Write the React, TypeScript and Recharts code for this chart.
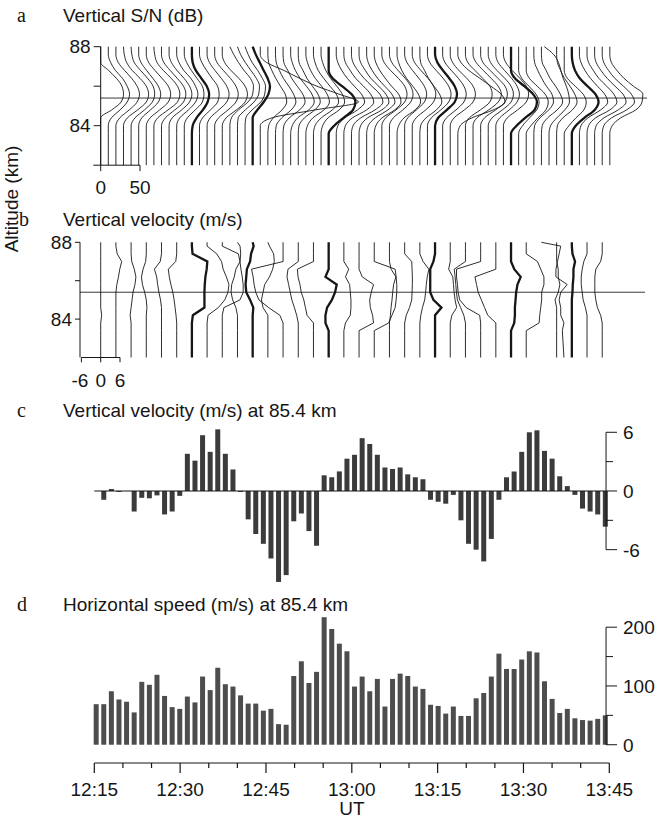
import React from 'react';
import { ScatterChart, Scatter, BarChart, Bar, XAxis, YAxis, ReferenceLine } from 'recharts';

const W = 666;
const H = 819;
const SANS = '"Liberation Sans", Arial, Helvetica, sans-serif';
const SERIF = '"Liberation Serif", "Times New Roman", serif';
const INK = '#161616';

// sample times in minutes after 12:15 UT (about 80 s cadence)
const T0 = 0.38;
const DT = 1.328;
const N = 68;
const TIMES = Array.from({ length: N }, (_, i) => +(T0 + i * DT).toFixed(3));

// profiles drawn with a heavy line (time index)
const HEAVY = [12, 20, 30, 44, 54, 62];

// (c) vertical velocity at 85.4 km, m/s
const VERT_VEL = [
  0, -0.9, 0.2, -0.1, 0, -2.1, -0.7, -0.75, -0.45, -2.4,
  -2.1, -0.5, 3.8, 3.1, 5.7, 4.0, 6.3, 3.8, 2.2, -0.1,
  -2.9, -4.4, -5.4, -6.9, -9.3, -8.6, -3.1, -2.3, -4.1, -5.6,
  1.6, 1.4, 2.0, 3.3, 3.7, 5.4, 4.8, 3.7, 2.4, 2.25,
  2.4, 1.7, 1.4, 1.2, -0.9, -1.1, -1.3, -0.4, -3.0, -5.4,
  -6.0, -7.2, -4.9, -0.9, 1.4, 2.0, 4.0, 6.0, 6.2, 4.1,
  3.3, 1.5, 0.5, -0.4, -1.8, -2.1, -2.4, -3.65,
];

// (d) horizontal speed at 85.4 km, m/s
const HORIZ_SPEED = [
  69, 69, 91, 77, 73, 55, 107, 102, 119, 83,
  64, 61, 82, 72, 116, 93, 131, 103, 99, 84,
  70, 70, 58, 61, 35, 34, 117, 142, 105, 124,
  217, 197, 172, 159, 99, 116, 91, 112, 65, 112,
  121, 117, 99, 95, 68, 66, 53, 65, 49, 49,
  79, 88, 116, 155, 129, 129, 145, 159, 157, 108,
  78, 54, 61, 45, 42, 41, 44, 50,
];

// (a) S/N above noise (dB) at these altitudes, one row per sample
const ALT_A = [82, 83.6, 84, 84.4, 84.8, 85.2, 85.6, 86, 86.4, 86.8, 87.2, 87.6, 88];
const SN_PROFILES = [
  [0, 0, 0, 0, 14, 26, 29, 27, 20, 10, 0, 0, 0],
  [0, 0, 0, 4, 15, 24, 27, 24, 18, 9, 3, 0, 0],
  [0, 0, 0, 5, 17, 27, 30, 27, 20, 11, 3, 0, 0],
  [0, 0, 0, 5, 18, 29, 32, 29, 21, 11, 4, 1, 0],
  [0, 0, 0, 5, 17, 27, 30, 28, 21, 12, 4, 1, 0],
  [0, 0, 0, 4, 15, 25, 28, 25, 18, 10, 3, 0, 0],
  [0, 0, 0, 5, 17, 28, 31, 28, 20, 11, 3, 0, 0],
  [0, 0, 0, 5, 18, 30, 33, 30, 22, 12, 4, 1, 0],
  [0, 0, 0, 5, 17, 28, 31, 28, 20, 11, 3, 0, 0],
  [0, 0, 0, 4, 16, 26, 29, 26, 19, 10, 3, 0, 0],
  [0, 0, 0, 4, 15, 24, 27, 24, 18, 9, 3, 0, 0],
  [0, 0, 0, 4, 14, 23, 25, 23, 16, 9, 3, 0, 0],
  [0, 0, 1, 6, 14, 20, 22, 19, 12, 5, 1, 0, 0],
  [0, 0, 0, 4, 14, 23, 25, 23, 16, 9, 3, 0, 0],
  [0, 0, 0, 4, 15, 25, 28, 25, 18, 10, 3, 0, 0],
  [0, 0, 0, 5, 17, 27, 30, 27, 20, 11, 3, 0, 0],
  [0, 0, 0, 5, 18, 29, 32, 29, 21, 11, 3, 0, 0],
  [0, 0, 0, 2, 11, 23, 29, 30, 26, 18, 11, 5, 0],
  [0, 0, 0, 1, 10, 21, 27, 28, 24, 17, 10, 4, 0],
  [0, 0, 0, 1, 9, 20, 25, 26, 22, 16, 9, 4, 0],
  [0, 0, 0, 0, 6, 14, 20, 22, 19, 14, 9, 4, 0],
  [0, 0, 0, 15, 70, 125, 100, 72, 50, 30, 8, 0, 0],
  [0, 0, 1, 7, 18, 24, 22, 16, 10, 5, 1, 0, 0],
  [0, 0, 1, 8, 20, 26, 23, 17, 10, 5, 1, 0, 0],
  [0, 0, 1, 8, 21, 28, 25, 18, 11, 6, 1, 0, 0],
  [0, 0, 2, 9, 23, 30, 27, 20, 12, 6, 2, 0, 0],
  [0, 0, 1, 8, 21, 28, 25, 18, 11, 6, 1, 0, 0],
  [0, 0, 2, 9, 23, 30, 27, 20, 12, 6, 2, 0, 0],
  [0, 0, 2, 10, 24, 32, 29, 21, 13, 6, 2, 0, 0],
  [0, 0, 2, 9, 23, 30, 27, 20, 12, 6, 2, 0, 0],
  [0, 0, 7, 19, 31, 34, 29, 17, 5, 0, 0, 0, 0],
  [0, 0, 2, 11, 27, 36, 32, 23, 14, 7, 2, 0, 0],
  [0, 0, 2, 11, 29, 38, 34, 25, 15, 8, 2, 0, 0],
  [0, 0, 2, 12, 30, 40, 36, 26, 16, 8, 2, 0, 0],
  [0, 0, 2, 11, 29, 38, 34, 25, 15, 8, 2, 0, 0],
  [0, 0, 2, 11, 27, 36, 32, 23, 14, 7, 2, 0, 0],
  [0, 0, 2, 10, 26, 34, 31, 22, 14, 7, 2, 0, 0],
  [0, 0, 0, 5, 18, 29, 32, 29, 21, 11, 3, 0, 0],
  [0, 0, 0, 5, 17, 27, 30, 27, 20, 11, 3, 0, 0],
  [0, 0, 2, 9, 23, 30, 27, 20, 12, 6, 2, 0, 0],
  [0, 0, 0, 4, 15, 25, 28, 25, 18, 10, 3, 0, 0],
  [0, 0, 0, 5, 17, 27, 30, 27, 20, 11, 3, 0, 0],
  [0, 0, 1, 8, 21, 28, 25, 18, 11, 6, 1, 0, 0],
  [0, 0, 0, 5, 17, 27, 30, 27, 20, 11, 3, 0, 0],
  [0, 0, 0, 4, 15, 25, 28, 25, 18, 10, 3, 0, 0],
  [0, 0, 0, 5, 17, 27, 30, 27, 20, 11, 3, 0, 0],
  [0, 0, 0, 5, 18, 29, 32, 29, 21, 11, 3, 0, 0],
  [0, 0, 3, 18, 45, 60, 55, 42, 28, 14, 4, 0, 0],
  [0, 0, 0, 5, 19, 31, 34, 31, 22, 12, 3, 0, 0],
  [0, 0, 0, 5, 20, 32, 36, 32, 23, 13, 4, 0, 0],
  [0, 0, 0, 5, 19, 31, 34, 31, 22, 12, 3, 0, 0],
  [0, 0, 0, 5, 18, 29, 32, 29, 21, 11, 3, 0, 0],
  [0, 0, 0, 5, 17, 27, 30, 27, 20, 11, 3, 0, 0],
  [0, 0, 0, 5, 18, 29, 32, 29, 21, 11, 3, 0, 0],
  [0, 0, 7, 18, 30, 33, 28, 17, 5, 0, 0, 0, 0],
  [0, 0, 5, 14, 23, 26, 22, 13, 4, 0, 0, 0, 0],
  [0, 0, 6, 15, 25, 28, 24, 14, 4, 0, 0, 0, 0],
  [0, 0, 1, 8, 19, 25, 23, 16, 10, 5, 1, 0, 0],
  [0, 0, 1, 8, 20, 27, 24, 18, 11, 6, 1, 0, 0],
  [0, 0, 2, 10, 20, 26, 25, 22, 18, 15, 12, 6, -6],
  [0, 0, 1, 8, 20, 26, 23, 17, 10, 5, 1, 0, 0],
  [0, 0, 6, 15, 25, 28, 24, 14, 4, 0, 0, 0, 0],
  [0, 0, 5, 16, 29, 34, 30, 20, 10, 4, 1, 0, 0],
  [0, 0, 2, 11, 27, 36, 32, 23, 14, 7, 2, 0, 0],
  [0, 0, 2, 11, 29, 38, 34, 25, 15, 8, 2, 0, 0],
  [0, 0, 2, 12, 30, 40, 36, 26, 16, 8, 2, 0, 0],
  [0, 0, 2, 12, 31, 41, 37, 27, 16, 8, 2, 0, 0],
  [0, 0, 3, 14, 33, 41, 42, 30, 18, 9, 2, 0, 0],
];

// (b) vertical velocity (m/s) at these altitudes, every second sample
const ALT_B = [82, 83.4, 83.8, 84.2, 84.6, 85, 85.4, 85.8, 86.2, 86.6, 87, 87.4, 87.8, 88];
const VEL_PROFILES = [
  [0, 0, 0, 0.3, 0, 0, 0, 0, 0, 0, 0, 0, 0, 0],
  [0, 0, 0, 0, 0, 0, 0, 0.3, 0.8, 1.2, 1.8, 0.4, 0, 0],
  [0, 0, 0, -0.3, 0, 0.3, 0.6, 1.2, 1.5, 1.0, 0.2, 0, 0, 0],
  [0, 0, 0, 0, 0.2, 0, -0.5, -1.2, -1.5, -1.0, -0.2, 0, 0, 0],
  [0, 0, 0, 0, 0, -0.3, -0.8, -1.2, -1.5, -2.2, -0.4, 0, 0, 0],
  [0, 0, 0, -0.2, -0.5, -0.8, -1.2, -1.8, -2.3, -2.6, -0.3, 0, 0, 0],
  [0, 0, 0, 0.3, 3.9, 3.9, 3.9, 4.0, 4.2, 4.6, 4.8, 0.2, 0, 0],
  [0, 0, 0, 0.3, 3.5, 5.5, 6.5, 6.8, 6.0, 5.0, 4.5, 3.0, 0, 0],
  [0, 0, 0, 0, 0.5, 5.5, 6.5, 6.5, 6.2, 5.8, 5.5, 5.0, 0, 0],
  [0, 0, 0, 0, -0.5, -1.5, -2.0, -1.8, -1.0, -0.5, 0.8, 1.0, 0.8, 0],
  [0, 0, 0, 0, 0.2, -0.8, -2.0, -2.2, -2.0, -1.8, -0.8, -0.5, 0.3, 0],
  [0, 0, 0, 0, -1.5, -2.0, -1.5, -1.0, 0.5, 1.5, 2.0, 1.8, 0.5, 0],
  [0, 0, 0, -1.0, -4.5, -7.5, -8.5, -9.0, -9.3, -9.8, 0, 0, 0, 0],
  [0, 0, 0, -0.5, -1.2, -2.0, -2.5, -3.0, -3.5, -3.2, 0, 0, 0, 0],
  [0, 0, 0, -2.0, -2.5, -3.0, -3.8, -4.2, -4.8, -5.0, 0, 0, 0, 0],
  [0, 0, -1.0, -1.0, -0.5, 1.0, 2.0, 2.5, -1.0, 0, 0, 0, 0, 0],
  [0, 0, 0.5, 2.0, 2.2, 2.2, 2.0, 1.8, 0.5, 1.5, 0, 0, 0, 0],
  [0, 0, 4.5, 4.2, 3.5, 3.3, 3.8, 4.5, 1.0, 0, 0, 0, 0, 0],
  [0, 0, 4.5, 5.5, 6.5, 6.8, 7.0, 7.0, 6.8, 6.5, 0, 0, 0, 0],
  [0, 0, 0, 0.3, 0.5, 0.8, 1.0, 1.3, 2.0, 0.5, 0, 0, 0, 0],
  [0, 0, 0, 0.5, 1.5, 2.2, 2.3, 2.4, 2.4, 2.3, 2.2, 0, 0, 0],
  [0, 0, 0, 0.3, 0.8, 1.5, 1.8, 2.0, 2.3, 2.8, 1.0, 0, 0, 0],
  [0, 0, 0, 0, 2.0, -0.5, -1.5, -1.5, -1.5, -1.5, -0.5, 0, 0, 0],
  [0, 0, 0, 0.5, 2.0, 1.5, 1.2, 1.0, 0.8, -0.5, 0, 0, 0, 0],
  [0, 0, 0, -0.5, -1.5, -2.5, -2.8, -3.0, -3.2, -3.5, 0, 0, 0, 0],
  [0, 0, 0, -0.3, -4.5, -6.5, -7.0, -7.2, -7.5, -7.5, 0, 0, 0, 0],
  [0, 0, 0, -2.5, -3.5, -4.5, -5.5, -6.0, -6.5, 0, 0, 0, 0, 0],
  [0, 0, 1.0, 1.2, 1.2, 1.4, 1.6, 2.0, 3.0, 1.0, 0, 0, 0, 0],
  [0, 0, 4.0, 4.2, 4.5, 4.8, 4.8, 5.5, 5.5, 4.5, 3.5, 0, 0, 0],
  [7, 6.5, 7, 6, 6, 5.5, 6, 8, 4.5, 4.5, 5, 5.5, 6, 0],
  [0, 0, 0, 0, 0, -0.5, 0.5, 1.0, 0.5, 0.5, 0, 0, 0, 0],
  [0, 0, 0, 0, 0, 0, 0.2, 0.3, 0.5, 0.5, 1.0, 0.2, 0, 0],
  [0, 0, 0, 0, -0.5, -1.2, -1.5, -1.8, -1.8, -1.5, -1.0, 0, 0, 0],
  [0, 0, 0, -0.5, -1.5, -2.0, -2.3, -2.3, -2.3, -2.0, -0.5, 0, 0, 0],
];

const TIME_TICKS = [0, 5, 10, 15, 20, 25, 30, 35, 40, 45, 50, 55, 60, 65, 70, 75, 80, 85, 90];
const TIME_LABELS = ['12:15', '12:30', '12:45', '13:00', '13:15', '13:30', '13:45'];

// plot geometry: one minute of time = 5.722 px
const PX_MIN = 5.722;
const SN_K = 0.786 / PX_MIN; // minutes of offset per dB
const VEL_K = 3.217 / PX_MIN; // minutes of offset per m/s
const AXIS_T = 89.43; // where the right-hand axes stand

const snSeries = SN_PROFILES.map((row, i) =>
  ALT_A.map((alt, k) => ({ x: TIMES[i] + row[k] * SN_K, y: alt })).reverse()
);
const velSeries = VEL_PROFILES.map((row, j) =>
  ALT_B.map((alt, k) => ({ x: TIMES[j * 2] + row[k] * VEL_K, y: alt })).reverse()
);
const barData = TIMES.map((t, i) => ({ t, w: VERT_VEL[i], s: HORIZ_SPEED[i] }));

const noDot = () => <g />;

const makeRightTick = (minor: number[]) => (props: any) => {
  const { x, y, payload } = props;
  const isMinor = minor.includes(payload.value);
  const ax = x - 3.3;
  return (
    <g>
      <line x1={ax} x2={ax + (isMinor ? 7 : 11)} y1={y} y2={y} stroke={INK} strokeWidth={1} />
      {!isMinor && (
        <text x={ax + 17} y={y} dy="0.36em" fontSize={19} fontFamily={SANS} fill={INK}>
          {payload.value}
        </text>
      )}
    </g>
  );
};

const TimeTick = (props: any) => {
  const { x, y, payload } = props;
  const v = payload.value;
  const major = v % 15 === 0;
  return (
    <g>
      <line x1={x} x2={x} y1={y} y2={y + (major ? 10 : 5)} stroke={INK} strokeWidth={1.2} />
      {major && (
        <text x={x} y={y + 33} textAnchor="middle" fontSize={19} fontFamily={SANS} fill={INK}>
          {TIME_LABELS[v / 15]}
        </text>
      )}
    </g>
  );
};

const layer: React.CSSProperties = { position: 'absolute', left: 0, top: 0 };

export default function App() {
  const t0 = TIMES[0];
  return (
    <div style={{ position: 'absolute', left: 0, top: 0, width: W, height: H, background: '#fff', overflow: 'hidden' }}>
      {/* a: S/N profiles */}
      <div style={layer}>
        <ScatterChart width={W} height={H} margin={{ top: 46.7, right: 19, bottom: 653.8, left: 70.7 }}>
          <XAxis type="number" dataKey="x" domain={[t0, t0 + (647 - 100.7) / PX_MIN]} hide />
          <YAxis
            type="number" dataKey="y" domain={[82, 88]} ticks={[84, 86, 88]} interval={0}
            width={30} tickSize={7} tickMargin={3}
            tickFormatter={(v: number) => (v === 86 ? '' : String(v))}
            stroke={INK} tick={{ fill: INK, fontSize: 19, fontFamily: SANS }}
          />
          <ReferenceLine y={85.4} stroke="#3a3a3a" strokeWidth={1} />
          <ReferenceLine segment={[{ x: t0 - 7.4 / PX_MIN, y: 82 }, { x: t0 + 50 * SN_K, y: 82 }]} stroke={INK} ifOverflow="visible" />
          <ReferenceLine segment={[{ x: t0, y: 82 }, { x: t0, y: 81.7 }]} stroke={INK} ifOverflow="visible" />
          <ReferenceLine segment={[{ x: t0 + 50 * SN_K, y: 82 }, { x: t0 + 50 * SN_K, y: 81.7 }]} stroke={INK} ifOverflow="visible" />
          {snSeries.map((d, i) => (
            <Scatter
              key={`a${i}`} data={d} shape={noDot} isAnimationActive={false}
              line={{ stroke: INK, strokeWidth: HEAVY.includes(i) ? 2.3 : 0.9 }}
              lineType="joint" lineJointType="monotoneY"
            />
          ))}
        </ScatterChart>
      </div>

      {/* b: vertical velocity profiles */}
      <div style={layer}>
        <ScatterChart width={W} height={H} margin={{ top: 242.3, right: 21, bottom: 461.5, left: 50 }}>
          <XAxis type="number" dataKey="x" domain={[t0 - 20.7 / PX_MIN, t0 + (645 - 100.7) / PX_MIN]} hide />
          <YAxis
            type="number" dataKey="y" domain={[82, 88]} ticks={[84, 86, 88]} interval={0}
            width={30} tickSize={5} tickMargin={3}
            tickFormatter={(v: number) => (v === 86 ? '' : String(v))}
            stroke={INK} tick={{ fill: INK, fontSize: 19, fontFamily: SANS }}
          />
          <ReferenceLine y={85.4} stroke="#3a3a3a" strokeWidth={1} />
          <ReferenceLine segment={[{ x: t0 - 6 * VEL_K, y: 82 }, { x: t0 + 6 * VEL_K, y: 82 }]} stroke={INK} ifOverflow="visible" />
          {[-6, 0, 6].map((v) => (
            <ReferenceLine
              key={`s${v}`}
              segment={[{ x: t0 + v * VEL_K, y: 82 }, { x: t0 + v * VEL_K, y: 81.75 }]}
              stroke={INK} ifOverflow="visible"
            />
          ))}
          {velSeries.map((d, j) => (
            <Scatter
              key={`b${j}`} data={d} shape={noDot} isAnimationActive={false}
              line={{ stroke: INK, strokeWidth: HEAVY.includes(j * 2) ? 2.3 : 0.9 }}
              lineType="joint" lineJointType="linear"
            />
          ))}
        </ScatterChart>
      </div>

      {/* c: vertical velocity at 85.4 km */}
      <div style={layer}>
        <BarChart width={W} height={H} data={barData} margin={{ top: 422.5, right: 16.7, bottom: 230.2, left: 94.3 }}>
          <XAxis type="number" dataKey="t" domain={[0, 90]} hide />
          <YAxis
            orientation="right" type="number" domain={[-10, 7]} ticks={[-6, -3, 0, 3, 6]} interval={0}
            width={40} tickSize={0} tickMargin={0} axisLine={false} tickLine={false}
            tick={makeRightTick([-3, 3])}
          />
          <ReferenceLine segment={[{ x: 0, y: 0 }, { x: AXIS_T, y: 0 }]} stroke={INK} strokeWidth={1.2} />
          <ReferenceLine segment={[{ x: AXIS_T, y: -6 }, { x: AXIS_T, y: 6 }]} stroke={INK} strokeWidth={1} />
          <Bar dataKey="w" fill="#3b3b3b" barSize={5} isAnimationActive={false} />
        </BarChart>
      </div>

      {/* d: horizontal speed at 85.4 km, with the UT axis */}
      <div style={layer}>
        <BarChart width={W} height={H} data={barData} margin={{ top: 615.45, right: 16.7, bottom: 16, left: 94.3 }}>
          <XAxis
            type="number" dataKey="t" domain={[0, 90]} ticks={TIME_TICKS} interval={0}
            height={40} tickSize={0} tickMargin={0} tickLine={false}
            stroke={INK} tick={<TimeTick />}
          />
          <YAxis
            orientation="right" type="number" domain={[-31.1, 220]} ticks={[0, 50, 100, 150, 200]} interval={0}
            width={40} tickSize={0} tickMargin={0} axisLine={false} tickLine={false}
            tick={makeRightTick([50, 150])}
          />
          <ReferenceLine segment={[{ x: AXIS_T, y: 0 }, { x: AXIS_T, y: 200 }]} stroke={INK} strokeWidth={1} />
          <Bar dataKey="s" fill="#4d4d4d" barSize={5} isAnimationActive={false} />
        </BarChart>
      </div>

      {/* panel letters, titles and scale labels */}
      <svg style={{ ...layer, pointerEvents: 'none' }} width={W} height={H}>
        <g fontFamily={SANS} fontSize={19} fill={INK}>
          <text x={17} y={22} fontFamily={SERIF} fontSize={20}>a</text>
          <text x={63} y={22}>Vertical S/N (dB)</text>
          <text x={19} y={226} fontFamily={SERIF} fontSize={20}>b</text>
          <text x={63} y={226}>Vertical velocity (m/s)</text>
          <text x={17} y={417} fontFamily={SERIF} fontSize={20}>c</text>
          <text x={63} y={417}>Vertical velocity (m/s) at 85.4 km</text>
          <text x={17} y={611} fontFamily={SERIF} fontSize={20}>d</text>
          <text x={63} y={611}>Horizontal speed (m/s) at 85.4 km</text>
          <text x={18} y={199} textAnchor="middle" transform="rotate(-90 18 199)">Altitude (km)</text>
          <text x={100.7} y={194} textAnchor="middle">0</text>
          <text x={140} y={194} textAnchor="middle">50</text>
          <text x={80} y={387} textAnchor="middle">-6</text>
          <text x={100.7} y={387} textAnchor="middle">0</text>
          <text x={120} y={387} textAnchor="middle">6</text>
          <text x={352} y={815} textAnchor="middle">UT</text>
        </g>
      </svg>
    </div>
  );
}
